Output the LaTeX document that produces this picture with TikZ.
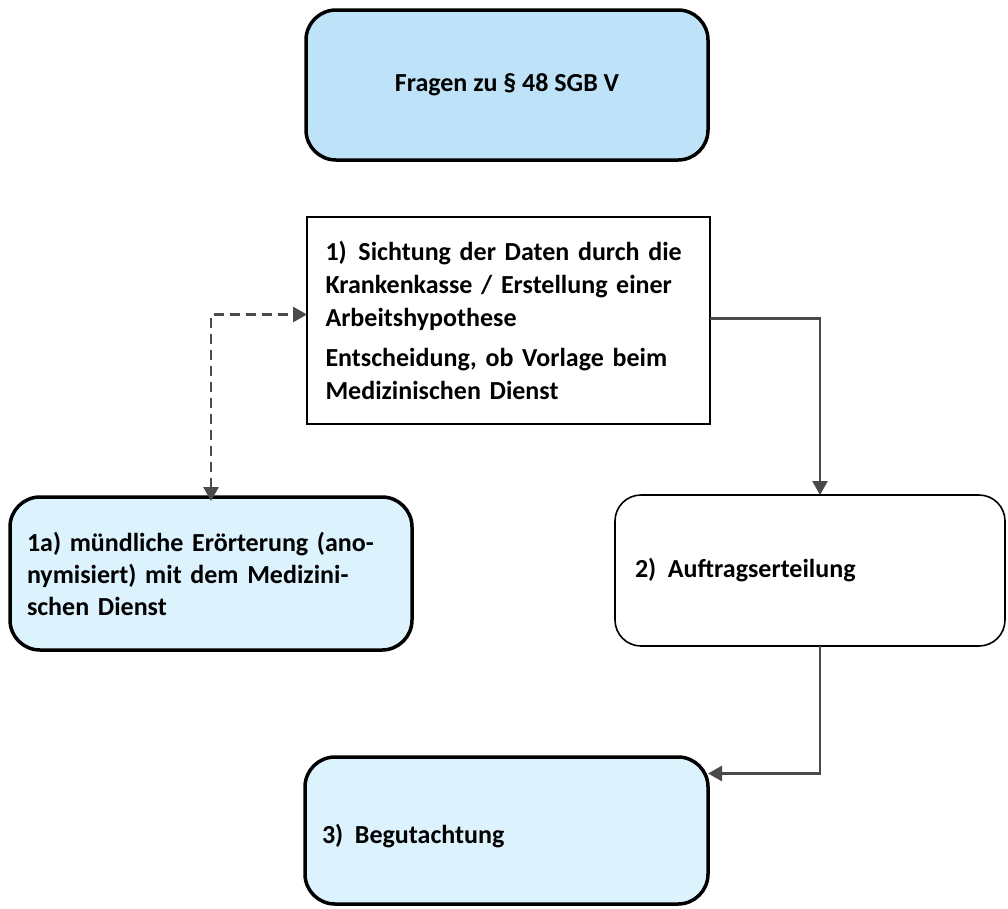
\documentclass[tikz,border=0pt]{standalone}
\usepackage{fontspec}
\setmainfont{Carlito}
\usetikzlibrary{arrows.meta,calc}
\definecolor{blueA}{HTML}{BEE3F8}
\definecolor{blueB}{HTML}{DCF2FC}
\definecolor{conn}{HTML}{4A4A4A}
\tikzset{
  every node/.style={font=\fontsize{26bp}{32bp}\selectfont\bfseries, inner sep=0pt, outer sep=0pt},
  thickbox/.style={draw=black, line width=3.5bp, rounded corners=30bp},
  plainbox/.style={draw=black, line width=2bp},
  thinbox/.style={draw=black, line width=1.6bp, rounded corners=26bp},
  conline/.style={draw=conn, line width=2.6bp, -{Triangle[length=14bp,width=15bp]}},
  dashline/.style={draw=conn, line width=2.6bp, dash pattern=on 10bp off 6bp, {Triangle[length=14bp,width=15bp]}-{Triangle[length=14bp,width=15bp]}},
}
\begin{document}
\begin{tikzpicture}[x=1bp,y=-1bp]
\useasboundingbox (0,0) rectangle (1008,909);
% boxes
\node[thickbox, fill=blueA, minimum width=402bp, minimum height=150bp, anchor=north west] (top) at (306,10) {Fragen zu § 48 SGB V};
\node[plainbox, fill=white, minimum width=403bp, minimum height=207bp, anchor=north west, text width=366bp, inner xsep=18.5bp, align=left, font=\fontsize{26bp}{33bp}\selectfont\bfseries] (b1) at (307,217)
  {1)\hspace{0.45em}Sichtung der Daten durch die\\Krankenkasse / Erstellung einer\\Arbeitshypothese\\[7bp]Entscheidung, ob Vorlage beim\\Medizinischen Dienst};
\node[thickbox, fill=blueB, minimum width=402bp, minimum height=153bp, anchor=north west, text width=368bp, inner xsep=17bp, align=left] (b1a) at (10,497)
  {1a) mündliche Erörterung (ano-\\nymisiert) mit dem Medizini-\\schen Dienst};
\node[thinbox, fill=white, minimum width=390bp, minimum height=151bp, anchor=north west, text width=350bp, inner xsep=20bp, align=left] (b2) at (615,495)
  {2)\hspace{0.45em}Auftragserteilung};
\node[thickbox, fill=blueB, minimum width=403bp, minimum height=147bp, anchor=north west, text width=369bp, inner xsep=17bp, align=left, text depth=0pt] (b3) at (305,757)
  {\raisebox{-6bp}{3)\hspace{0.45em}Begutachtung}};
% connectors
\draw[conline] ([yshift=2bp]b1.east) -| ([xshift=10bp]b2.north);
\draw[conline] ([xshift=10bp]b2.south) -- ++(0,4) |- ([yshift=57bp]b3.east);
\draw[dashline] ([yshift=-4bp]b1a.north) |- ([yshift=6bp]b1.west);
\end{tikzpicture}
\end{document}
